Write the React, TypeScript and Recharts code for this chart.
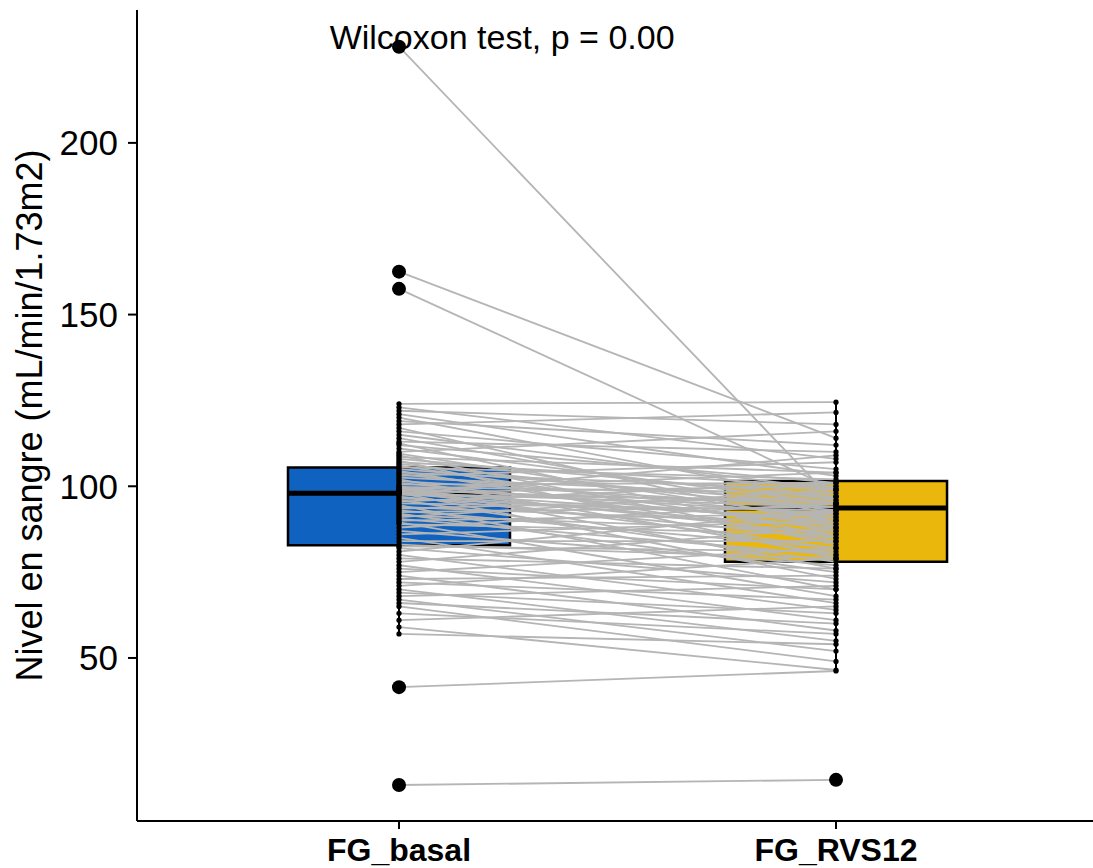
import React from 'react';
import {
  ComposedChart,
  Line,
  Scatter,
  XAxis,
  YAxis,
  ReferenceArea,
  ReferenceLine,
  ReferenceDot,
} from 'recharts';

// ---------- data ----------
const groups = ['FG_basal', 'FG_RVS12'];
const groupPos = [1, 2];

const basal = [
  124.0, 123.0, 122.0, 121.0, 120.0, 119.0, 118.0, 117.0, 116.0, 115.0, 114.0, 113.0,
  112.5, 112.0, 111.0, 110.0, 109.5, 109.0, 108.5, 108.0, 107.5, 107.0, 106.5, 106.0,
  105.5, 105.0, 104.5, 104.0, 103.5, 103.0, 102.5, 102.0, 101.5, 101.0, 100.5, 100.0,
  99.8, 99.5, 99.2, 99.0, 98.8, 98.6, 98.4, 98.2, 98.1, 98.0, 97.9, 97.8,
  97.5, 97.0, 96.5, 96.0, 95.5, 95.0, 94.5, 94.0, 93.5, 93.0, 92.5, 92.0,
  91.5, 91.0, 90.5, 90.0, 89.5, 89.0, 88.0, 87.0, 86.0, 85.0, 84.0, 83.0,
  82.5, 82.0, 81.0, 80.0, 79.0, 78.0, 77.0, 76.0, 75.0, 74.0, 73.0, 72.0,
  71.0, 70.0, 69.0, 68.0, 67.0, 66.0, 65.0, 63.0, 61.0, 59.0, 57.0,
  228.0, 162.5, 157.5, 41.5, 13.0,
];

const rvs12 = [
  124.5, 108.0, 118.0, 103.0, 96.0, 112.0, 121.5, 88.0, 105.0, 99.0, 92.0, 110.0,
  85.0, 101.0, 95.0, 116.0, 90.0, 83.0, 104.0, 97.0, 79.0, 100.0, 93.0, 87.0,
  102.0, 95.0, 84.0, 99.0, 91.0, 107.0, 97.0, 80.0, 94.0, 89.0, 101.0, 76.0,
  98.0, 92.0, 86.0, 104.0, 95.0, 82.0, 90.0, 100.0, 73.0, 94.0, 88.0, 109.0,
  96.0, 85.0, 91.0, 78.0, 101.0, 93.0, 70.0, 89.0, 97.0, 82.0, 94.0, 75.0,
  87.0, 99.0, 80.0, 92.0, 68.0, 86.0, 95.0, 77.0, 90.0, 66.0, 84.0, 79.0,
  81.0, 72.0, 93.0, 64.0, 76.0, 88.0, 61.0, 70.0, 82.0, 58.0, 74.0, 67.0,
  79.0, 55.0, 63.0, 71.0, 52.0, 60.0, 49.0, 57.0, 65.0, 46.5, 54.0,
  95.0, 114.0, 99.0, 46.2, 14.5,
];

const boxQ1 = [82.8, 78.0];
const boxMedian = [98.0, 93.7];
const boxQ3 = [105.5, 101.5];
const boxColors = ['#0F62BF', '#EAB80C'];
const yTicks = [50, 100, 150, 200];
const annotation = 'Wilcoxon test, p = 0.00';
const yTitle = 'Nivel en sangre (mL/min/1.73m2)';

// ---------- derived ----------
const series = [basal, rvs12];
const fences = series.map((_, i) => {
  const iqr = boxQ3[i] - boxQ1[i];
  return [boxQ1[i] - 1.5 * iqr, boxQ3[i] + 1.5 * iqr];
});
const whiskers = series.map((vals, i) => {
  const inside = vals.filter((v) => v >= fences[i][0] && v <= fences[i][1]);
  return [Math.min(...inside), Math.max(...inside)];
});
const regular = series.map((vals, i) =>
  vals.filter((v) => v >= fences[i][0] && v <= fences[i][1]).map((v) => ({ x: groupPos[i], y: v }))
);
const outliers = series.map((vals, i) =>
  vals.filter((v) => v < fences[i][0] || v > fences[i][1]).map((v) => ({ x: groupPos[i], y: v }))
);
const pairs = basal.map((b, k) => [
  { x: groupPos[0], y: b },
  { x: groupPos[1], y: rvs12[k] },
]);

const HALF = 0.254;
const FONT = '"Liberation Sans", Arial, Helvetica, sans-serif';

const SmallDot = (p: any) => <circle cx={p.cx} cy={p.cy} r={2.6} fill="#000" />;
const BigDot = (p: any) => <circle cx={p.cx} cy={p.cy} r={7} fill="#000" />;

export default function App() {
  return (
    <div style={{ position: 'absolute', left: 0, top: 0, background: '#fff' }}>
      <ComposedChart
        width={1093}
        height={868}
        margin={{ top: 10, right: 0, bottom: 0, left: 0 }}
        style={{ fontFamily: FONT }}
      >
        <XAxis
          type="number"
          dataKey="x"
          domain={[0.4005, 2.588]}
          ticks={groupPos}
          tickFormatter={(v: number) => groups[groupPos.indexOf(v)] ?? ''}
          allowDataOverflow
          height={47}
          tickSize={8}
          tickMargin={9}
          axisLine={{ stroke: '#000', strokeWidth: 2 }}
          tickLine={{ stroke: '#000', strokeWidth: 2 }}
          tick={{ fill: '#000', fontSize: 32, fontWeight: 'bold', fontFamily: FONT }}
        />
        <YAxis
          type="number"
          domain={[2.52, 238.7]}
          ticks={yTicks}
          allowDataOverflow
          width={137}
          tickSize={9}
          tickMargin={10}
          axisLine={{ stroke: '#000', strokeWidth: 2 }}
          tickLine={{ stroke: '#000', strokeWidth: 2 }}
          tick={{ fill: '#000', fontSize: 35, fontFamily: FONT }}
          label={{
            value: yTitle,
            angle: -90,
            position: 'insideLeft',
            offset: 29,
            fill: '#000',
            fontSize: 36,
            fontFamily: FONT,
            style: { textAnchor: 'middle' },
          }}
        />
        {groupPos.map((gx, i) => (
          <ReferenceArea
            key={'box' + i}
            x1={gx - HALF}
            x2={gx + HALF}
            y1={boxQ1[i]}
            y2={boxQ3[i]}
            fill={boxColors[i]}
            fillOpacity={1}
            stroke="#000"
            strokeWidth={2.5}
            ifOverflow="visible"
          />
        ))}
        {groupPos.map((gx, i) => (
          <ReferenceLine
            key={'med' + i}
            segment={[
              { x: gx - HALF, y: boxMedian[i] },
              { x: gx + HALF, y: boxMedian[i] },
            ]}
            stroke="#000"
            strokeWidth={5}
          />
        ))}
        {groupPos.map((gx, i) => (
          <ReferenceLine
            key={'wu' + i}
            segment={[
              { x: gx, y: boxQ3[i] },
              { x: gx, y: whiskers[i][1] },
            ]}
            stroke="#000"
            strokeWidth={2}
          />
        ))}
        {groupPos.map((gx, i) => (
          <ReferenceLine
            key={'wl' + i}
            segment={[
              { x: gx, y: boxQ1[i] },
              { x: gx, y: whiskers[i][0] },
            ]}
            stroke="#000"
            strokeWidth={2}
          />
        ))}
        {pairs.map((pd, k) => (
          <Line
            key={'pair' + k}
            data={pd}
            dataKey="y"
            stroke="#b5b5b5"
            strokeWidth={1.8}
            dot={false}
            activeDot={false}
            isAnimationActive={false}
            legendType="none"
          />
        ))}
        {regular.map((d, i) => (
          <Scatter key={'pts' + i} data={d} dataKey="y" shape={SmallDot} isAnimationActive={false} />
        ))}
        {outliers.map((d, i) => (
          <Scatter key={'out' + i} data={d} dataKey="y" shape={BigDot} isAnimationActive={false} />
        ))}
        <ReferenceDot
          x={1.236}
          y={230.8}
          r={0}
          fill="none"
          stroke="none"
          ifOverflow="visible"
          label={{ value: annotation, position: 'center', fill: '#000', fontSize: 34, fontFamily: FONT }}
        />
      </ComposedChart>
    </div>
  );
}
